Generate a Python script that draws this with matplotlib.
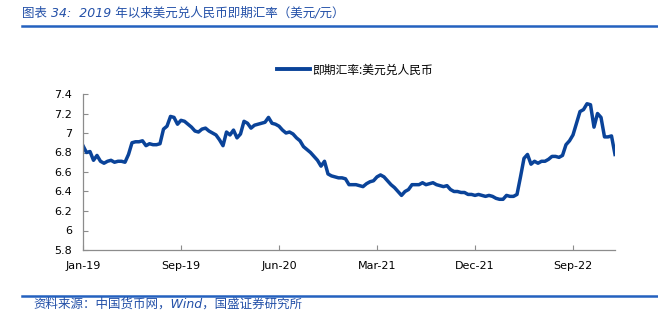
import matplotlib
matplotlib.use("Agg")
import matplotlib.pyplot as plt
import numpy as np
from matplotlib.lines import Line2D

plt.rcParams['font.family'] = ['DejaVu Sans', 'Noto Sans CJK SC']

# USD/CNY spot rate, sampled at regular trading-day steps (Jan-19 .. early 2023)
usdcny = [
    6.87, 6.80, 6.81, 6.72, 6.77, 6.71, 6.69, 6.71, 6.72, 6.70,
    6.71, 6.71, 6.70, 6.78, 6.90, 6.91, 6.91, 6.92, 6.87, 6.89,
    6.88, 6.88, 6.89, 7.04, 7.07, 7.17, 7.16, 7.09, 7.13, 7.12,
    7.09, 7.06, 7.02, 7.01, 7.04, 7.05, 7.02, 7.00, 6.98, 6.93,
    6.87, 7.01, 6.98, 7.03, 6.95, 6.99, 7.12, 7.10, 7.05, 7.08,
    7.09, 7.10, 7.11, 7.16, 7.10, 7.09, 7.07, 7.03, 7.00, 7.01,
    6.99, 6.95, 6.92, 6.86, 6.83, 6.80, 6.76, 6.72, 6.66, 6.71,
    6.58, 6.56, 6.55, 6.54, 6.54, 6.53, 6.47, 6.47, 6.47, 6.46,
    6.45, 6.48, 6.50, 6.51, 6.55, 6.57, 6.55, 6.51, 6.47, 6.44,
    6.40, 6.36, 6.40, 6.42, 6.47, 6.47, 6.47, 6.49, 6.47, 6.48,
    6.49, 6.47, 6.46, 6.45, 6.46, 6.42, 6.40, 6.40, 6.39, 6.39,
    6.37, 6.37, 6.36, 6.37, 6.36, 6.35, 6.36, 6.35, 6.33, 6.32,
    6.32, 6.36, 6.35, 6.35, 6.37, 6.55, 6.74, 6.78, 6.68, 6.71,
    6.69, 6.71, 6.71, 6.73, 6.76, 6.76, 6.75, 6.77, 6.88, 6.92,
    6.98, 7.10, 7.22, 7.24, 7.30, 7.29, 7.06, 7.20, 7.16, 6.96,
    6.96, 6.97, 6.78,
]
tick_labels = ['Jan-19', 'Sep-19', 'Jun-20', 'Mar-21', 'Dec-21', 'Sep-22']
tick_step = 28
y_ticks = [5.8, 6.0, 6.2, 6.4, 6.6, 6.8, 7.0, 7.2, 7.4]
y_tick_labels = ['5.8', '6', '6.2', '6.4', '6.6', '6.8', '7', '7.2', '7.4']

series_name = '即期汇率:美元兑人民币'
title = '图表 34:  2019 年以来美元兑人民币即期汇率（美元/元）'
source = '资料来源：中国货币网，Wind，国盛证券研究所'

W, H = 658, 325
fig = plt.figure(figsize=(W / 100, H / 100), dpi=100)
ax = fig.add_axes([83 / W, 1 - 250 / H, (615 - 83) / W, (250 - 94) / H])

x = np.arange(len(usdcny))
line_color = '#0a4399'
ax.plot(x, usdcny, color=line_color, lw=2.5, solid_joinstyle='round')

ax.set_xlim(0, len(usdcny) - 1)
ax.set_ylim(5.8, 7.4)
ax.set_yticks(y_ticks)
ax.set_yticklabels(y_tick_labels)
ax.set_xticks([i * tick_step for i in range(len(tick_labels))])
ax.set_xticklabels(tick_labels)

for s in ['top', 'right']:
    ax.spines[s].set_visible(False)
for s in ['left', 'bottom']:
    ax.spines[s].set_color('#8c8c8c')
    ax.spines[s].set_linewidth(0.9)
ax.tick_params(axis='both', direction='in', color='#8c8c8c', labelsize=8,
               labelcolor='#000000')
ax.tick_params(axis='y', length=3.5, pad=8)
ax.tick_params(axis='x', length=3.5, pad=8)

# legend
handle = Line2D([0], [0], color=line_color, lw=2.8)
fig.legend([handle], [series_name], loc='center left',
           bbox_to_anchor=(277 / W, 1 - 70 / H), frameon=False,
           borderpad=0, borderaxespad=0, handlelength=2.8, handletextpad=0.2,
           prop={'family': ['Noto Sans CJK SC'], 'size': 8.5})

# title and rules
blue = '#2350a8'
fig.text(22 / W, 1 - 13 / H, title, color=blue, fontsize=9, style='italic',
         family=['DejaVu Sans', 'Noto Sans CJK SC'], va='center', ha='left')
fig.add_artist(Line2D([22 / W, 1.0], [1 - 25.5 / H] * 2, color='#2461bf', lw=1.8,
                      transform=fig.transFigure))
fig.add_artist(Line2D([22 / W, 1.0], [1 - 295.5 / H] * 2, color='#2461bf', lw=1.8,
                      transform=fig.transFigure))
fig.text(33 / W, 1 - 304 / H, source, color=blue, fontsize=9, style='italic',
         family=['DejaVu Sans', 'Noto Sans CJK SC'], va='center', ha='left')

fig.savefig('out.png', dpi=100)
